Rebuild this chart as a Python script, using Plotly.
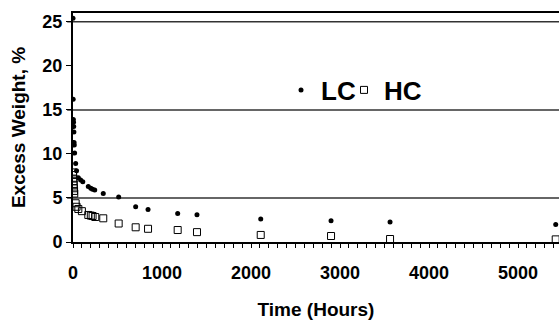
import plotly.graph_objects as go

# LC series (filled dots)
lc_x = [0, 2, 4, 6, 8, 10, 12, 14, 18, 30, 40, 60, 86, 110, 172, 200, 220, 244, 340, 513, 704, 843, 1176, 1393, 2109, 2899, 3562, 5423]
lc_y = [25.4, 16.2, 13.9, 13.6, 13.1, 12.5, 11.3, 11.0, 10.1, 8.9, 8.1, 7.3, 7.05, 6.85, 6.3, 6.1, 6.0, 5.9, 5.5, 5.1, 4.0, 3.7, 3.25, 3.1, 2.6, 2.4, 2.27, 2.0]

# HC series (open squares)
hc_x = [0, 2, 4, 6, 8, 10, 12, 14, 30, 40, 60, 100, 172, 200, 220, 250, 340, 513, 704, 843, 1176, 1393, 2109, 2899, 3562, 5423]
hc_y = [7.9, 7.6, 7.2, 6.9, 6.5, 6.1, 5.8, 5.5, 4.4, 4.0, 3.75, 3.5, 3.07, 3.0, 2.95, 2.84, 2.69, 2.1, 1.67, 1.5, 1.36, 1.12, 0.8, 0.68, 0.34, 0.3]

grid_vals = [5, 15, 25]
y_ticks = [0, 5, 10, 15, 20, 25]
x_ticks = [0, 1000, 2000, 3000, 4000, 5000]

FONT = "Liberation Sans, Arial, sans-serif"

fig = go.Figure()
fig.add_trace(go.Scatter(
    x=lc_x, y=lc_y, mode="markers", name="LC", legend="legend", showlegend=True,
    marker=dict(symbol="circle", size=5, color="black"),
))
fig.add_trace(go.Scatter(
    x=hc_x, y=hc_y, mode="markers", name="HC", legend="legend2", showlegend=True,
    marker=dict(symbol="square-open", size=7, color="black", line=dict(width=1)),
))

for g in grid_vals:
    fig.add_shape(type="line", xref="paper", x0=-0.012, x1=1, yref="y", y0=g, y1=g,
                  line=dict(color="#333333", width=1.5), layer="below")

legend_common = dict(
    xref="paper", yref="paper", yanchor="middle", xanchor="left",
    font=dict(family=FONT, size=26, color="black", weight="bold"),
    bgcolor="rgba(0,0,0,0)", itemwidth=30, visible=True,
)

fig.update_layout(
    width=559, height=320,
    showlegend=True,
    margin=dict(l=73, r=0, t=13, b=78, autoexpand=False),
    paper_bgcolor="white", plot_bgcolor="white",
    font=dict(family=FONT, size=18, color="black"),
    legend=dict(x=(281 - 73) / 486, y=(242 - 90) / 229, **legend_common),
    legend2=dict(x=(344 - 73) / 486, y=(242 - 90) / 229, **legend_common),
    xaxis=dict(
        range=[0, 5460], tickvals=x_ticks, showgrid=False, zeroline=False,
        showline=True, linecolor="black", linewidth=2, mirror=True,
        ticks="outside", ticklen=4, tickcolor="black",
        tickfont=dict(family=FONT, size=18, color="black", weight="bold"),
        ticklabelstandoff=9,
        minor=dict(dtick=100, ticks="outside", ticklen=4, tickcolor="black"),
        title=dict(text="Time (Hours)", font=dict(family=FONT, size=19, color="black", weight="bold"), standoff=21),
    ),
    yaxis=dict(
        range=[0, 26], tickvals=y_ticks, showgrid=False, zeroline=False,
        showline=True, linecolor="black", linewidth=2,
        ticks="outside", ticklen=5, tickcolor="black",
        tickfont=dict(family=FONT, size=18, color="black", weight="bold"),
        title=dict(text="Excess Weight, %", font=dict(family=FONT, size=19, color="black", weight="bold"), standoff=12),
    ),
)

fig.write_html("out.html")
